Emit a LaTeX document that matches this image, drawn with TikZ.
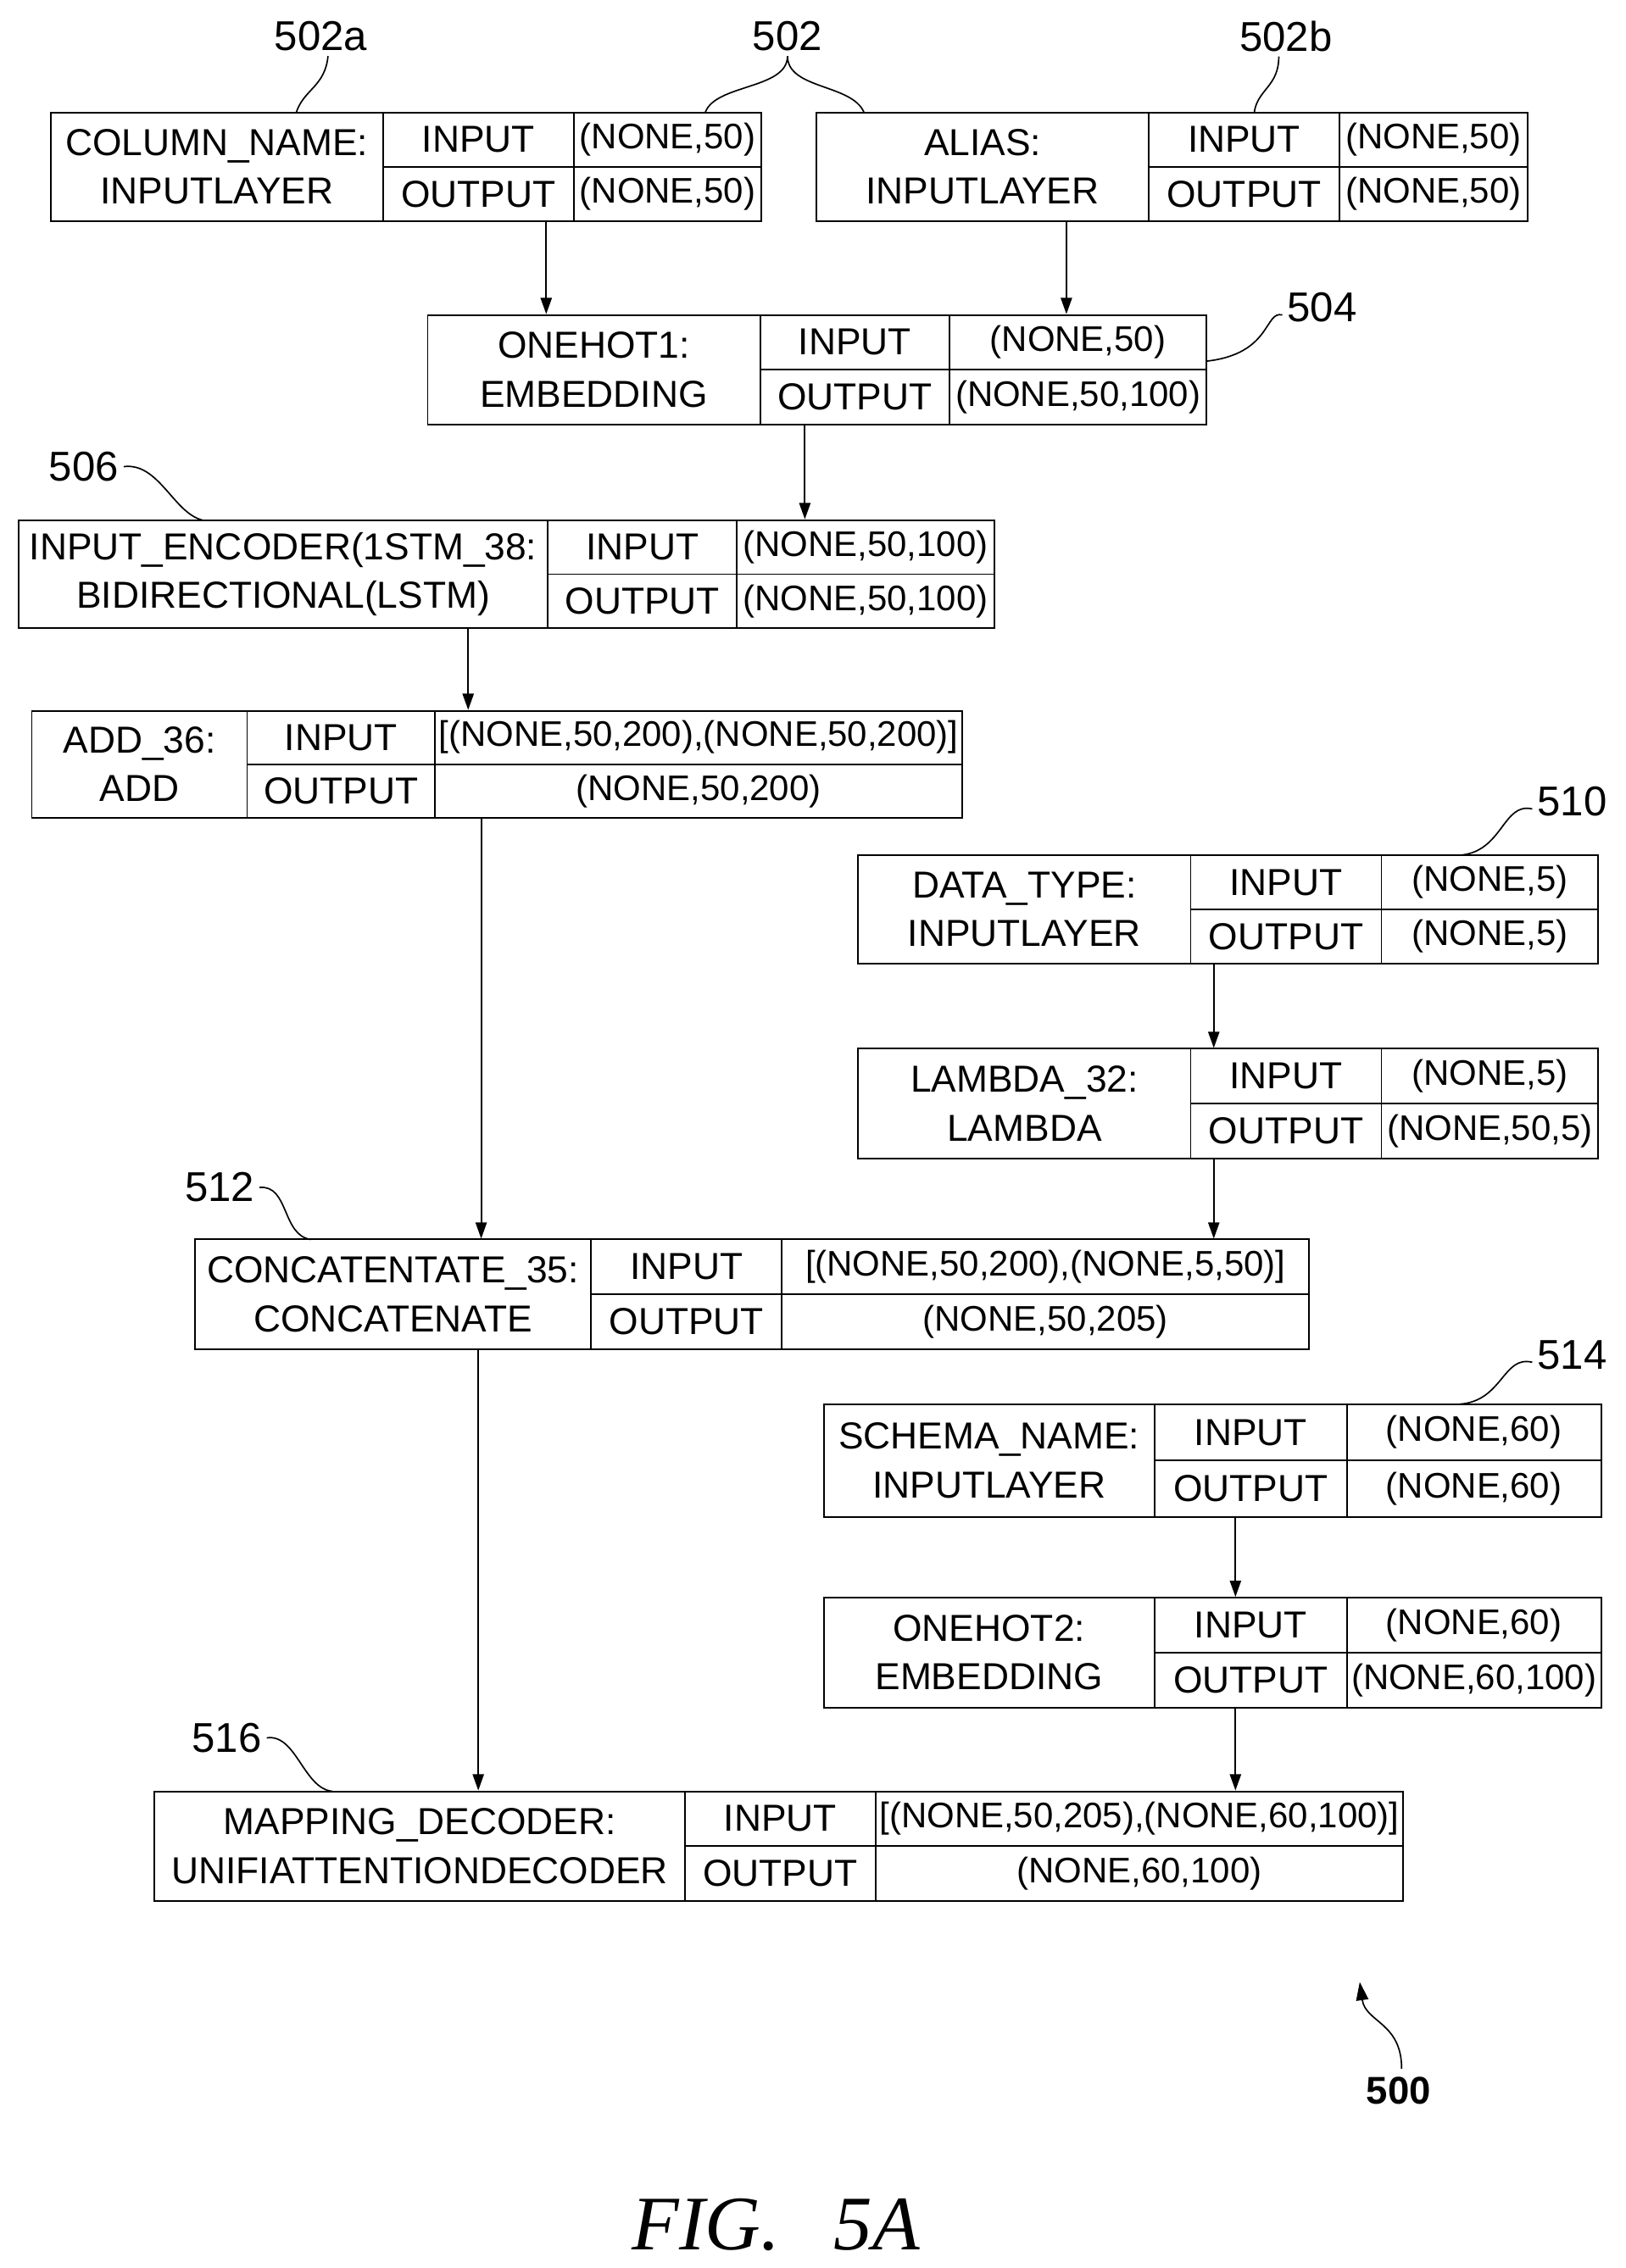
\documentclass[tikz,border=0pt]{standalone}
\usepackage{fontspec}
\setmainfont{Liberation Sans}
\newfontfamily\figfont{Liberation Serif}
\usetikzlibrary{arrows.meta,calc}
\begin{document}
\begin{tikzpicture}[x=0.05cm,y=-0.05cm,line width=1.6pt,
  txt/.style={inner sep=0,align=center,font=\fontsize{37}{48}\selectfont},
  val/.style={inner sep=0,align=center,font=\fontsize{35}{46}\selectfont},
  num/.style={inner sep=0,font=\fontsize{41}{46}\selectfont},
  arr/.style={-{Triangle[length=16pt,width=11pt]}},
  lead/.style={line width=1.4pt},
  box/.style={draw,inner sep=0}]
\useasboundingbox (0,0) rectangle (1125,1570);
\newcommand\tb[9]{% name,x0,x1,x2,x3,yt,yb,label
  \pgfmathsetmacro\ww{(#5-#2)*0.05}\pgfmathsetmacro\hh{(#7-#6)*0.05}
  \node[box,minimum width=\ww cm,minimum height=\hh cm] (#1) at ({(#2+#5)/2},{(#6+#7)/2}) {};
  \draw (#3,#6)--(#3,#7) (#4,#6)--(#4,#7) (#3,{(#6+#7)/2})--(#5,{(#6+#7)/2});
  \node[txt] (#1-l) at ({(#2+#3)/2},{(#6+#7)/2}) {#8};
  \node[txt] (#1-i) at ({(#3+#4)/2},{(3*#6+#7)/4}) {INPUT};
  \node[txt] (#1-o) at ({(#3+#4)/2},{(#6+3*#7)/4}) {OUTPUT};
  \coordinate (#1-vi) at ({(#4+#5)/2},{(3*#6+#7)/4});
  \coordinate (#1-vo) at ({(#4+#5)/2},{(#6+3*#7)/4});
  #9}
\tb{a}{35}{265}{397}{527}{78}{153}{COLUMN\_NAME:\\INPUTLAYER}{}
\tb{b}{565}{795}{927}{1057}{78}{153}{ALIAS:\\INPUTLAYER}{}
\tb{c}{296}{526}{657}{835}{218}{294}{ONEHOT1:\\EMBEDDING}{}
\tb{d}{13}{379}{510}{688}{360}{435}{INPUT\_ENCODER(1STM\_38:\\BIDIRECTIONAL(LSTM)}{}
\tb{e}{22}{171}{301}{666}{492}{566}{ADD\_36:\\ADD}{}
\tb{f}{594}{824}{956}{1106}{592}{667}{DATA\_TYPE:\\INPUTLAYER}{}
\tb{g}{594}{824}{956}{1106}{726}{802}{LAMBDA\_32:\\LAMBDA}{}
\tb{h}{135}{409}{541}{906}{858}{934}{CONCATENTATE\_35:\\CONCATENATE}{}
\tb{k}{570}{799}{932}{1108}{972}{1050}{SCHEMA\_NAME:\\INPUTLAYER}{}
\tb{m}{570}{799}{932}{1108}{1106}{1182}{ONEHOT2:\\EMBEDDING}{}
\tb{n}{107}{474}{606}{971}{1240}{1316}{MAPPING\_DECODER:\\UNIFIATTENTIONDECODER}{}
% values
\node[val] (av1) at (a-vi) {(NONE,50)}; \node[val] (av2) at (a-vo) {(NONE,50)};
\node[val] (bv1) at (b-vi) {(NONE,50)}; \node[val] (bv2) at (b-vo) {(NONE,50)};
\node[val] (cv1) at (c-vi) {(NONE,50)}; \node[val] (cv2) at (c-vo) {(NONE,50,100)};
\node[val] (dv1) at (d-vi) {(NONE,50,100)}; \node[val] (dv2) at (d-vo) {(NONE,50,100)};
\node[val] (ev1) at (e-vi) {[(NONE,50,200),(NONE,50,200)]}; \node[val] (ev2) at (e-vo) {(NONE,50,200)};
\node[val] (fv1) at (f-vi) {(NONE,5)}; \node[val] (fv2) at (f-vo) {(NONE,5)};
\node[val] (gv1) at (g-vi) {(NONE,5)}; \node[val] (gv2) at (g-vo) {(NONE,50,5)};
\node[val] (hv1) at (h-vi) {[(NONE,50,200),(NONE,5,50)]}; \node[val] (hv2) at (h-vo) {(NONE,50,205)};
\node[val] (kv1) at (k-vi) {(NONE,60)}; \node[val] (kv2) at (k-vo) {(NONE,60)};
\node[val] (mv1) at (m-vi) {(NONE,60)}; \node[val] (mv2) at (m-vo) {(NONE,60,100)};
\node[val] (nv1) at (n-vi) {[(NONE,50,205),(NONE,60,100)]}; \node[val] (nv2) at (n-vo) {(NONE,60,100)};
% connectors
\coordinate (x1) at (378,0); \coordinate (x2) at (738,0); \coordinate (x3) at (557,0);
\coordinate (x4) at (324,0); \coordinate (x5) at (333,0); \coordinate (x6) at (840,0);
\coordinate (x7) at (331,0); \coordinate (x8) at (855,0);
\draw[arr] (a.south -| x1) -- (c.north -| x1);
\draw[arr] (b.south -| x2) -- (c.north -| x2);
\draw[arr] (c.south -| x3) -- (d.north -| x3);
\draw[arr] (d.south -| x4) -- (e.north -| x4);
\draw[arr] (e.south -| x5) -- (h.north -| x5);
\draw[arr] (f.south -| x6) -- (g.north -| x6);
\draw[arr] (g.south -| x6) -- (h.north -| x6);
\draw[arr] (h.south -| x7) -- (n.north -| x7);
\draw[arr] (k.south -| x8) -- (m.north -| x8);
\draw[arr] (m.south -| x8) -- (n.north -| x8);
% reference labels
\node[num] (l502a) at (222,25) {502a};
\node[num] (l502) at (545,25) {502};
\node[num] (l502b) at (890,25) {502b};
\node[num] (l504) at (915,213) {504};
\node[num] (l506) at (58,323) {506};
\node[num] (l510) at (1088,555) {510};
\node[num] (l512) at (152,822) {512};
\node[num] (l514) at (1088,938) {514};
\node[num] (l516) at (157,1203) {516};
\draw[lead] (l502a.south) ++(5,3) .. controls (225,60) and (210,62) .. (205,78);
\draw[lead] (l502.south) ++(0,3) .. controls (545,62) and (495,58) .. (488,78);
\draw[lead] (l502.south) ++(0,3) .. controls (545,62) and (590,58) .. (598,78);
\draw[lead] (l502b.south) ++(-5,3) .. controls (885,60) and (870,62) .. (868,78);
\draw[lead] (l504.west) ++(-3,5) .. controls (875,215) and (880,245) .. (835,250);
\draw[lead] (l506.east) ++(3,0) .. controls (110,320) and (120,355) .. (140,360);
\draw[lead] (l510.west) ++(-3,5) .. controls (1040,555) and (1040,590) .. (1010,592);
\draw[lead] (l512.east) ++(3,0) .. controls (200,820) and (195,855) .. (215,858);
\draw[lead] (l514.west) ++(-3,5) .. controls (1040,938) and (1040,970) .. (1010,972);
\draw[lead] (l516.east) ++(3,0) .. controls (205,1200) and (210,1238) .. (230,1240);
% 500
\node[inner sep=0,font=\fontsize{38}{44}\selectfont\bfseries] (l500) at (968,1447) {500};
\draw[lead,-{Triangle[length=18pt,width=12pt]}] (l500.north) ++(2,-5) .. controls (970,1400) and (945,1400) .. (941,1372);
\node[inner sep=0,font=\figfont\fontsize{76}{84}\selectfont\itshape] (figt) at (537,1540) {FIG.\hspace{0.7em}5A};
\end{tikzpicture}
\end{document}
